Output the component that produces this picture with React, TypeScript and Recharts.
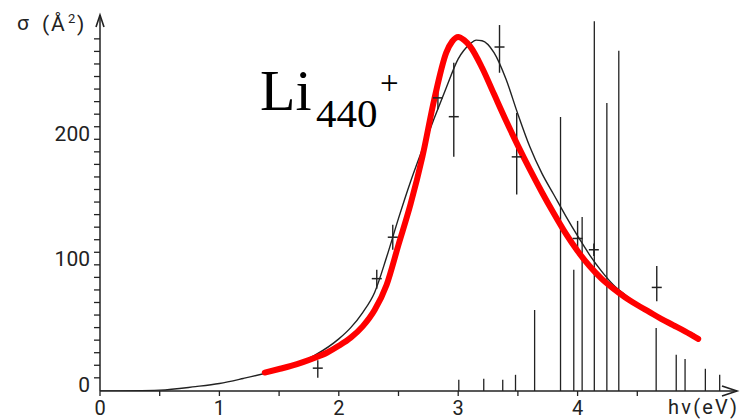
import React from 'react';
import { ComposedChart, Line, Scatter, XAxis, YAxis, ReferenceLine, ReferenceDot } from 'recharts';

// Theory curve (thin black)
const theoryEv = [0, 0.5, 0.8, 1.0, 1.2, 1.4, 1.6, 1.8, 2.0, 2.1, 2.2, 2.3, 2.4, 2.5, 2.6, 2.7, 2.8, 2.9, 3.0, 3.1, 3.15, 3.2, 3.3, 3.4, 3.5, 3.6, 3.7, 3.8, 3.9, 4.0, 4.1, 4.2, 4.3, 4.4, 4.5, 4.6, 4.7, 4.8, 4.99];
const theorySigma = [-10.5, -9.8, -7, -4.5, -0.5, 4, 9.5, 18, 31, 40, 52, 68, 96, 127, 156, 182, 207, 231, 254, 266, 269, 268.5, 259, 238, 210, 184, 163, 146, 129, 113, 98, 85, 74, 66, 59, 53, 47.5, 42.5, 34];

// Fitted curve (thick red)
const fitEv = [1.38, 1.5, 1.6, 1.7, 1.8, 1.9, 2.0, 2.1, 2.2, 2.3, 2.4, 2.5, 2.6, 2.7, 2.8, 2.9, 2.95, 3.0, 3.05, 3.1, 3.2, 3.3, 3.4, 3.5, 3.6, 3.7, 3.8, 3.9, 4.0, 4.1, 4.2, 4.3, 4.4, 4.5, 4.6, 4.7, 4.8, 4.9, 5.01];
const fitSigma = [4.2, 7, 9.5, 12.5, 16, 20, 25.5, 32, 41, 54, 74, 106, 138, 176, 222, 259, 268, 271.5, 269, 264, 247, 226, 205, 185, 166, 148, 131, 115, 101, 89, 79, 71, 64, 58, 52.5, 47, 42, 37, 31];

// Measured points with error bars
const pointEv = [1.824, 2.318, 2.452, 2.83, 2.963, 3.346, 3.49, 4.0, 4.136, 4.663];
const pointSigma = [7.7, 79, 112, 223, 208, 263.5, 176, 111, 102, 72];
const pointLow = [0, 71, 102, 214, 176, 243, 146, 102, 97, 61];
const pointHigh = [14, 86, 122, 232, 251, 281, 211, 125, 107, 89];

// Stick spectrum
const stickEv = [3.005, 3.214, 3.373, 3.48, 3.64, 3.857, 3.968, 4.038, 4.14, 4.245, 4.345, 4.658, 4.826, 4.9, 5.07, 5.19];
const stickTop = [-1.6, -0.8, -1.6, 2.4, 54, 207.7, 86, 128, 284, 219, 260.5, 39.6, 18.3, 14.9, 7.2, 2.4];

const xTicks = [0, 0.5, 1, 1.5, 2, 2.5, 3, 3.5, 4, 4.5];
const yTicks = [0, 10, 20, 30, 40, 50, 60, 70, 80, 90, 100, 110, 120, 130, 140, 150, 160, 170, 180, 190, 200, 210, 220, 230, 240, 250, 260, 270];

const X_MIN = 0;
const X_MAX = 5.335;
const Y_MIN = -10.5;
const Y_MAX = 289;

const theoryData = theoryEv.map((x, i) => ({ x, y: theorySigma[i] }));
const fitData = fitEv.map((x, i) => ({ x, y: fitSigma[i] }));
const pointData = pointEv.map((x, i) => ({ x, y: pointSigma[i] }));

const INK = '#222';
const FONT = 'Roboto, "DejaVu Sans", sans-serif';

const XTick = (props: any) => {
  const { x, y, payload } = props;
  if (!Number.isInteger(payload.value)) return <g />;
  return (
    <text x={x} y={y + 17} textAnchor="middle" fontFamily={FONT} fontSize={20} fill={INK}>
      {payload.value}
    </text>
  );
};

const YTick = (props: any) => {
  const { x, y, payload } = props;
  if (payload.value % 100 !== 0) return <g />;
  return (
    <text x={x} y={y + 14} textAnchor="end" fontFamily={FONT} fontSize={21} fill={INK}>
      {payload.value}
    </text>
  );
};

const CrossArm = (props: any) => {
  const { cx, cy } = props;
  return <line x1={cx - 5} x2={cx + 5} y1={cy} y2={cy} stroke={INK} strokeWidth={1.5} />;
};

const UpArrow = (props: any) => {
  const { cx, cy } = props;
  return <path d={`M${cx - 4},${cy + 12} L${cx},${cy} L${cx + 4},${cy + 12}`} fill="none" stroke={INK} strokeWidth={1.6} />;
};

const RightArrow = (props: any) => {
  const { cx, cy } = props;
  return <path d={`M${cx - 15},${cy - 5} L${cx},${cy} L${cx - 15},${cy + 5}`} fill="none" stroke={INK} strokeWidth={1.6} />;
};

export default function App() {
  return (
    <div style={{ position: 'absolute', left: 0, top: 0, width: 747, height: 420, background: '#fff' }}>
      <ComposedChart width={747} height={420} margin={{ top: 15, right: 10, bottom: 0, left: 0 }}>
        <XAxis
          type="number"
          dataKey="x"
          domain={[X_MIN, X_MAX]}
          ticks={xTicks}
          height={29}
          tickSize={5}
          tickMargin={2}
          axisLine={{ stroke: INK, strokeWidth: 1.5 }}
          tickLine={{ stroke: INK, strokeWidth: 1.3 }}
          tick={XTick}
          interval={0}
          allowDataOverflow
        />
        <YAxis
          type="number"
          dataKey="y"
          domain={[Y_MIN, Y_MAX]}
          ticks={yTicks}
          width={100}
          tickSize={6}
          tickMargin={4}
          axisLine={{ stroke: INK, strokeWidth: 1.5 }}
          tickLine={{ stroke: INK, strokeWidth: 1.3 }}
          tick={YTick}
          interval={0}
          allowDataOverflow
        />
        {stickEv.map((ev, i) => (
          <ReferenceLine
            key={'s' + i}
            segment={[{ x: ev, y: Y_MIN }, { x: ev, y: stickTop[i] }]}
            stroke={INK}
            strokeWidth={1.3}
            ifOverflow="visible"
          />
        ))}
        {pointEv.map((ev, i) => (
          <ReferenceLine
            key={'e' + i}
            segment={[{ x: ev, y: pointLow[i] }, { x: ev, y: pointHigh[i] }]}
            stroke={INK}
            strokeWidth={1.4}
            ifOverflow="visible"
          />
        ))}
        <Line
          data={theoryData}
          dataKey="y"
          type="monotone"
          stroke={INK}
          strokeWidth={1.4}
          dot={false}
          isAnimationActive={false}
        />
        <Line
          data={fitData}
          dataKey="y"
          type="monotone"
          stroke="#ff0000"
          strokeWidth={6}
          strokeLinecap="round"
          strokeLinejoin="round"
          dot={false}
          isAnimationActive={false}
        />
        <Scatter data={pointData} dataKey="y" shape={CrossArm} isAnimationActive={false} />
        <ReferenceDot x={X_MIN} y={Y_MAX} r={0} shape={UpArrow} ifOverflow="visible" />
        <ReferenceDot x={X_MAX} y={Y_MIN} r={0} shape={RightArrow} ifOverflow="visible" />
      </ComposedChart>
      <svg width={747} height={420} style={{ position: 'absolute', left: 0, top: 0, pointerEvents: 'none' }}>
        <text x={17} y={30} fontFamily={FONT} fontSize={21} fill={INK}>σ</text>
        <text x={42} y={31} fontFamily={FONT} fontSize={21} fill={INK}>(</text>
        <text x={51} y={31} fontFamily={FONT} fontSize={21} fill={INK}>Å</text>
        <text x={68} y={23} fontFamily={FONT} fontSize={13} fill={INK}>2</text>
        <text x={77} y={31} fontFamily={FONT} fontSize={21} fill={INK}>)</text>
        <text x={668} y={414} fontFamily={FONT} fontSize={20} fill={INK} textLength={69} lengthAdjust="spacing">hν(eV)</text>
        <text x={260} y={110} fontFamily='"Liberation Serif", "Times New Roman", serif' fontSize={58} fill="#000">Li</text>
        <text x={316} y={127} fontFamily='"Liberation Serif", "Times New Roman", serif' fontSize={41} fill="#000">440</text>
        <text x={380} y={94} fontFamily='"Liberation Serif", "Times New Roman", serif' fontSize={33} fill="#000">+</text>
      </svg>
    </div>
  );
}
